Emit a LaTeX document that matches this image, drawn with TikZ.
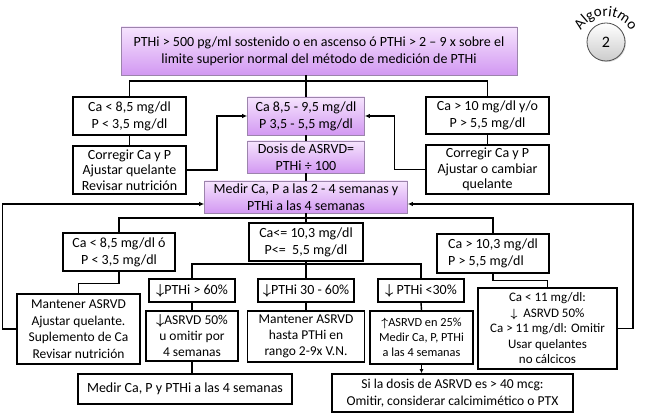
\documentclass[tikz,border=0pt]{standalone}
\usepackage{fontspec}
\setmainfont{Carlito}
\usetikzlibrary{arrows.meta,decorations.text,shadows}
\definecolor{pT}{HTML}{F6E4FD}
\definecolor{pB}{HTML}{D298F2}
\definecolor{pE}{HTML}{9C84AC}
\begin{document}
\begin{tikzpicture}[x=1pt,y=-1pt,
  txt/.style={font=\fontsize{14}{17}\selectfont},
  box/.style={txt,draw,line width=1.6pt,fill=white,align=center,inner sep=1pt},
  pbox/.style={txt,draw=pE,line width=0.7pt,top color=pT,bottom color=pB,align=center,inner sep=1pt},
  tight/.style={font=\fontsize{14}{15.5}\selectfont},
  conn/.style={line width=1.4pt},
  arr/.style={conn,-{Latex[length=5pt,width=4.5pt]}}]
\useasboundingbox (0,0) rectangle (650,419);
\newcommand{\dnar}{{\boldmath$\downarrow$}}
\newcommand{\upar}{{\boldmath$\uparrow$}}
% boxes
\node[pbox,minimum width=396pt,minimum height=48pt] (top) at (319,51) {PTHi > 500 pg/ml sostenido o en ascenso ó PTHi > 2 – 9 x sobre el\\limite superior normal del método de medición de PTHi};
\node[box,minimum width=113pt,minimum height=38pt] (caL) at (129.5,116) {Ca < 8,5 mg/dl\\P < 3,5 mg/dl};
\node[box,tight,minimum width=113pt,minimum height=48pt] (corrL) at (129.5,170) {Corregir Ca y P\\Ajustar quelante\\Revisar nutrición};
\node[pbox,minimum width=117pt,minimum height=38pt] (ca85) at (306,116) {Ca 8,5 - 9,5 mg/dl\\P 3,5 - 5,5 mg/dl};
\node[pbox,minimum width=117pt,minimum height=32pt] (dosis) at (306,157) {Dosis de ASRVD=\\PTHi ÷ 100};
\node[pbox,minimum width=203pt,minimum height=32pt] (medir) at (306,197) {Medir Ca, P a las 2 - 4 semanas y\\PTHi a las 4 semanas};
\node[box,minimum width=123pt,minimum height=37pt] (caR) at (487.5,115.5) {Ca > 10 mg/dl y/o\\P > 5,5 mg/dl};
\node[box,tight,minimum width=123pt,minimum height=49pt] (corrR) at (487.5,169.5) {Corregir Ca y P\\Ajustar o cambiar\\quelante};
\node[box,minimum width=112pt,minimum height=38pt] (caO) at (119,252) {Ca < 8,5 mg/dl ó\\P < 3,5 mg/dl};
\node[box,minimum width=123pt,minimum height=70pt,font=\fontsize{13.5}{16.5}\selectfont] (mant) at (78.5,329) {Mantener ASRVD\\Ajustar quelante.\\Suplemento de Ca\\Revisar nutrición};
\node[box,minimum width=114pt,minimum height=38pt] (caLE) at (306,242) {Ca<= 10,3 mg/dl\\P<=\ \ 5,5 mg/dl};
\node[box,minimum width=86pt,minimum height=23pt] (p60) at (192,290.5) {\dnar PTHi > 60\%};
\node[box,minimum width=96pt,minimum height=23pt] (p3060) at (306,290.5) {\dnar PTHi 30 - 60\%};
\node[box,minimum width=86pt,minimum height=23pt] (p30) at (421,290.5) {\dnar\ PTHi <30\%};
\node[box,minimum width=92pt,minimum height=50pt,font=\fontsize{13.5}{16}\selectfont] (a50) at (192,336) {\dnar ASRVD 50\%\\u omitir por\\4 semanas};
\node[box,minimum width=117pt,minimum height=51pt,font=\fontsize{13.5}{16}\selectfont] (mantH) at (306,336.5) {Mantener ASRVD\\hasta PTHi en\\rango 2-9x V.N.};
\node[box,minimum width=103pt,minimum height=53pt,font=\fontsize{12.3}{15}\selectfont] (a25) at (421.5,337.5) {\upar ASRVD en 25\%\\Medir Ca, P, PTHi\\a las 4 semanas};
\node[box,minimum width=214pt,minimum height=30pt] (medirB) at (185,389) {Medir Ca, P y PTHi a las 4 semanas};
\node[box,minimum width=112pt,minimum height=39pt,align=left] (caG) at (493,253.5) {Ca > 10,3 mg/dl\\P > 5,5 mg/dl};
\node[box,minimum width=139pt,minimum height=81pt,font=\fontsize{13}{15.5}\selectfont] (ca11) at (547.5,328.5) {Ca < 11 mg/dl:\\\dnar\ \ ASRVD 50\%\\Ca > 11 mg/dl: Omitir\\Usar quelantes\\no cálcicos};
\node[box,minimum width=241pt,minimum height=38pt,font=\fontsize{13.6}{17}\selectfont] (siLa) at (452.5,393) {Si la dosis de ASRVD es > 40 mcg:\\Omitir, considerar calcimimético o PTX};
% algoritmo badge
\node[circle,draw=gray!60!black,line width=0.8pt,top color=white,bottom color=gray!40,minimum size=38pt,drop shadow={opacity=0.3,shadow xshift=1pt,shadow yshift=-1pt},font=\fontsize{16}{16}\selectfont] (alg) at (606,42) {2};
\path[decorate,decoration={text along path,text align=center,text={|\fontsize{15}{15}\selectfont|Algoritmo}}] (578.4,38.7) arc[start angle=191,end angle=349,radius=28];
% connectors
\coordinate (tj) at (306,81);
\draw[conn] (caL.north) |- (tj) -| (caR.north);
\draw[conn] (top.south -| tj) -- (ca85.north);
\draw[conn] (caL.south) -- (corrL.north);
\draw[conn] (caR.south) -- (corrR.north);
\draw[arr] (corrL.east) -- ++(30,0) |- (ca85.west);
\draw[arr] (corrR.west) -- ++(-31,0) |- (ca85.east);
\draw[conn] (ca85.south) -- (dosis.north);
\draw[conn] (dosis.south) -- (medir.north);
\draw[conn] (medir.south) -- (caLE.north);
\coordinate (mj) at (306,218);
\draw[conn] (caO.north) |- (mj) -| (caG.north);
\draw[arr] (mant.west) -- ++(-14,0) |- ([yshift=-7pt]medir.west);
\draw[arr] (ca11.east) -- ++(15,0) |- ([yshift=-7pt]medir.east);
\draw[conn] (caO.south) -- ++(0,12) -| (mant.north);
\coordinate (lj) at (306,264);
\draw[conn] (p60.north) |- (lj) -| (p30.north);
\draw[conn] (caLE.south) -- (p3060.north);
\draw[conn] (p60.south) -- (a50.north);
\draw[conn] (p3060.south) -- (mantH.north);
\draw[conn] (p30.south) -- (a25.north);
\draw[conn] (a50.south) -- (a50.south |- medirB.north);
\draw[conn,-{Latex[length=4pt,width=4pt]}] (a25.south) -- (a25.south |- siLa.north);
\draw[conn] (caG.south) -- ++(0,7) -| (ca11.north);
\end{tikzpicture}
\end{document}
